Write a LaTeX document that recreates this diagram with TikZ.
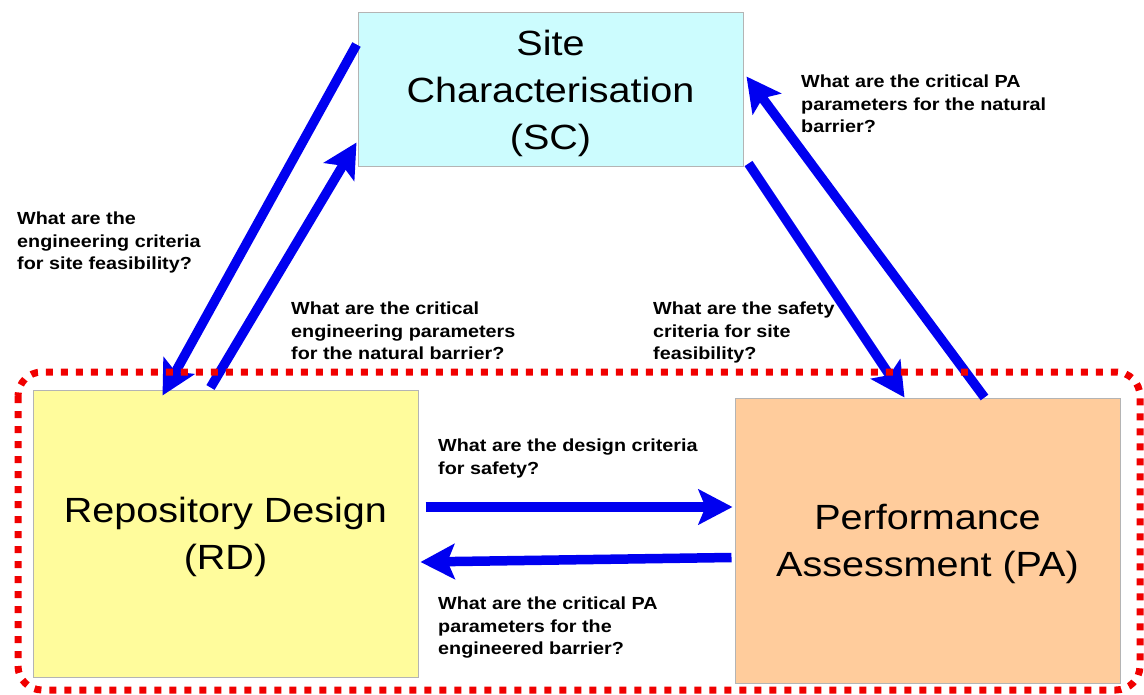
\documentclass[tikz,border=0pt]{standalone}
\usepackage{fontspec}
\setmainfont{Liberation Sans}[FakeStretch=1.13]
\usetikzlibrary{arrows.meta,calc}
\definecolor{scfill}{HTML}{CCFCFE}
\definecolor{rdfill}{HTML}{FFFC9C}
\definecolor{pafill}{HTML}{FFCC9C}
\definecolor{boxline}{HTML}{B4B4B4}
\definecolor{arrblue}{HTML}{0000F0}
\definecolor{dashred}{HTML}{F00000}
\tikzset{
  mainbox/.style={draw=boxline, line width=1pt, minimum width=385pt, inner sep=0pt, align=center,
    font=\fontsize{35}{47}\selectfont},
  bigarrow/.style={draw=arrblue, line width=9.5pt, -{Stealth[length=34pt,width=35pt,inset=7pt]}},
  qlabel/.style={anchor=north west, align=left, inner sep=0pt,
    font=\fontsize{17.5}{22.5}\selectfont\bfseries},
}
\begin{document}
\begin{tikzpicture}[x=1pt,y=-1pt]
\useasboundingbox (0,0) rectangle (1144,695);
\node[mainbox, fill=scfill, minimum height=154pt] (sc) at (550.5,90) {};
\node[mainbox, fill=rdfill, minimum height=287pt] (rd) at (225.5,533.5) {};
\node[mainbox, fill=pafill, minimum height=285pt] (pa) at (927.5,540.5) {};
\node[align=center, inner sep=0pt, font=\fontsize{35}{47}\selectfont] (sct) at ($(sc.center)+(0,3)$) {Site\\Characterisation\\(SC)};
\node[align=center, inner sep=0pt, font=\fontsize{35}{47}\selectfont] (rdt) at ($(rd.center)+(0,3)$) {Repository Design\\(RD)};
\node[align=center, inner sep=0pt, font=\fontsize{35}{47}\selectfont] (pat) at ($(pa.center)+(0,3)$) {Performance\\Assessment (PA)};

\draw[bigarrow] ($(sc.north west)+(-1,32)$) -- ($(rd.north west)+(130,6)$);
\draw[bigarrow] ($(rd.north west)+(178,-2)$) -- ($(sc.south west)+(-1,-25)$);
\draw[bigarrow] ($(sc.south east)+(5,-4)$) -- ($(pa.north west)+(170,0)$);
\draw[bigarrow] ($(pa.north west)+(250,0)$) -- ($(sc.north east)+(3,64)$);
\draw[bigarrow] ($(rd.east)+(7,-26.5)$) -- ($(pa.west)+(-2,-33.5)$);
\draw[bigarrow] ($(pa.west)+(-3,17)$) -- ($(rd.east)+(2,28.5)$);

\draw[dashred, line width=7pt, dash pattern=on 7pt off 8pt, rounded corners=24pt]
  (18,372) rectangle (1140,690);

\node[qlabel] (q1) at (17,212) {What are the\\engineering criteria\\for site feasibility?};
\node[qlabel] (q2) at (291,302) {What are the critical\\engineering parameters\\for the natural barrier?};
\node[qlabel] (q3) at (801,75) {What are the critical PA\\parameters for the natural\\barrier?};
\node[qlabel] (q4) at (653,302) {What are the safety\\criteria for site\\feasibility?};
\node[qlabel] (q5) at (438,439) {What are the design criteria\\for safety?};
\node[qlabel] (q6) at (438,597) {What are the critical PA\\parameters for the\\engineered barrier?};
\end{tikzpicture}
\end{document}
